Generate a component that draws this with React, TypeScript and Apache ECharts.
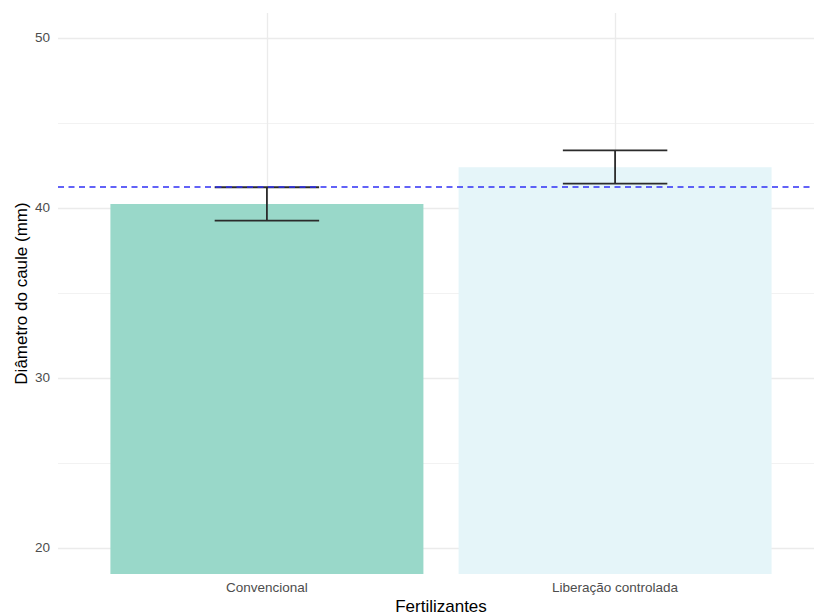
import React, { useEffect, useRef } from "react";
import * as echarts from "echarts";

// Fertilizer treatments and stem diameter summaries (mm)
const categories = ["Convencional", "Liberação controlada"];
const means = [40.235, 42.39];
const lower = [39.26, 41.43];
const upper = [41.22, 43.39];
const barColors = ["#99d8c9", "#e5f5f9"];
const overallMean = 41.24;

const yMajorTicks = [20, 30, 40, 50];
const yMinorTicks = [25, 35, 45];
const yMin = 18.47;
const yMax = 51.47;

const FONT = "'Liberation Sans', Arial, sans-serif";

export default function App() {
  const ref = useRef<HTMLDivElement>(null);

  useEffect(() => {
    if (!ref.current) return;
    const chart = echarts.init(ref.current, null, { renderer: "svg" });

    const positions = categories.map((_, i) => i + 1);

    chart.setOption({
      animation: false,
      backgroundColor: "#ffffff",
      grid: { left: 58, top: 13, width: 766, height: 561, outerBoundsMode: "none", containLabel: false },
      xAxis: {
        type: "value",
        min: 0.4,
        max: 2.6,
        name: "Fertilizantes",
        nameLocation: "middle",
        nameGap: 24,
        nameMoveOverlap: false,
        nameTextStyle: { fontFamily: FONT, fontSize: 17, color: "#000000" },
        axisLine: { show: false },
        axisTick: { show: false },
        splitLine: { show: false },
        axisLabel: {
          customValues: positions,
          formatter: (v: number) => categories[Math.round(v) - 1] ?? "",
          fontFamily: FONT,
          fontSize: 13.5,
          color: "#4d4d4d",
          margin: 6,
        },
      },
      yAxis: {
        type: "value",
        min: yMin,
        max: yMax,
        name: "Diâmetro do caule (mm)",
        nameLocation: "middle",
        nameGap: 28,
        nameRotate: 90,
        nameMoveOverlap: false,
        nameTextStyle: { fontFamily: FONT, fontSize: 17, color: "#000000" },
        axisLine: { show: false },
        axisTick: { show: false },
        splitLine: { show: false },
        axisLabel: {
          customValues: yMajorTicks,
          fontFamily: FONT,
          fontSize: 13.5,
          color: "#4d4d4d",
          margin: 8,
        },
      },
      series: [
        {
          // panel grid lines, kept beneath the bars
          type: "line",
          data: [],
          z: 0,
          silent: true,
          markLine: {
            z: 0,
            silent: true,
            symbol: "none",
            label: { show: false },
            data: [
              ...yMajorTicks.map((v) => ({
                yAxis: v,
                lineStyle: { color: "#ebebeb", width: 1.3, type: "solid" },
              })),
              ...yMinorTicks.map((v) => ({
                yAxis: v,
                lineStyle: { color: "#f2f2f2", width: 1, type: "solid" },
              })),
              ...positions.map((v) => ({
                xAxis: v,
                lineStyle: { color: "#ebebeb", width: 1.3, type: "solid" },
              })),
            ],
          },
        },
        {
          type: "bar",
          z: 2,
          barWidth: 313,
          data: means.map((m, i) => ({
            value: [positions[i], m],
            itemStyle: { color: barColors[i] },
          })),
        },
        {
          // error bars
          type: "custom",
          z: 3,
          data: means.map((_, i) => [positions[i], lower[i], upper[i]]),
          renderItem: (params: any, api: any) => {
            const x = api.value(0);
            const lo = api.coord([x, api.value(1)]);
            const hi = api.coord([x, api.value(2)]);
            const half = api.size([0.3, 0])[0] / 2;
            const style = { stroke: "#2b2b2b", lineWidth: 1.8 };
            return {
              type: "group",
              children: [
                { type: "line", shape: { x1: lo[0], y1: lo[1], x2: hi[0], y2: hi[1] }, style },
                { type: "line", shape: { x1: lo[0] - half, y1: lo[1], x2: lo[0] + half, y2: lo[1] }, style },
                { type: "line", shape: { x1: hi[0] - half, y1: hi[1], x2: hi[0] + half, y2: hi[1] }, style },
              ],
            };
          },
        },
        {
          // overall mean reference line
          type: "line",
          data: [],
          z: 4,
          markLine: {
            z: 6,
            silent: true,
            symbol: "none",
            label: { show: false },
            lineStyle: { color: "#2f2ff5", width: 1.6, type: [6, 4.5] },
            data: [{ yAxis: overallMean }],
          },
        },
      ],
    });

    return () => chart.dispose();
  }, []);

  return (
    <div
      ref={ref}
      style={{ position: "fixed", left: 0, top: 0, width: 814, height: 616 }}
    />
  );
}
